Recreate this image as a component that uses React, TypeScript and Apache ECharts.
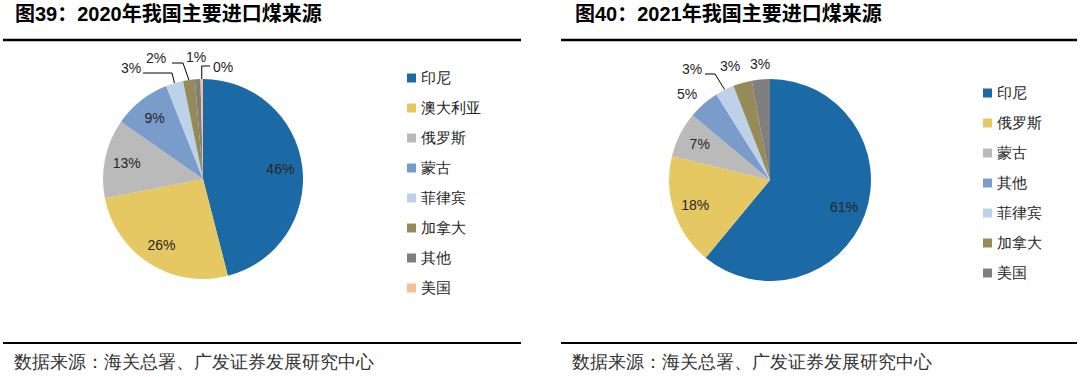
import React, { useEffect, useRef } from 'react';
import * as echarts from 'echarts';

const names2020 = ['印尼', '澳大利亚', '俄罗斯', '蒙古', '菲律宾', '加拿大', '其他', '美国'];
const values2020 = [46.0, 25.9, 12.8, 9.3, 2.8, 1.9, 0.9, 0.4];
const colors2020 = ['#1B6AA5', '#E6C863', '#BABABA', '#7A9CCB', '#BDD1E8', '#968B58', '#7F7F7F', '#F9BF94'];

const names2021 = ['印尼', '俄罗斯', '蒙古', '其他', '菲律宾', '加拿大', '美国'];
const values2021 = [61.0, 17.8, 7.3, 5.0, 3.0, 3.0, 2.9];
const colors2021 = ['#1B6AA5', '#E6C863', '#BABABA', '#7A9CCB', '#BDD1E8', '#968B58', '#7F7F7F'];

const title2020 = '图39：2020年我国主要进口煤来源';
const title2021 = '图40：2021年我国主要进口煤来源';
const sourceText = '数据来源：海关总署、广发证券发展研究中心';

const labelFont = 'Liberation Sans, Arial, sans-serif';
const serifFont = 'serif';

// outside label placement (chart-local px): label centre and optional leader-line elbow points
type Placement = { x: number; y: number; line?: number[][] };
const placements2020: Record<number, Placement> = {
  4: { x: 131, y: 68, line: [[172, 73], [143, 73]] },
  5: { x: 156, y: 58, line: [[183, 63], [172, 63]] },
  6: { x: 196, y: 57 },
  7: { x: 223, y: 67, line: [[-1, 66], [210, 66]] },
};
const placements2021: Record<number, Placement> = {
  3: { x: 147, y: 94 },
  4: { x: 152, y: 69, line: [[175, 74], [165, 74]] },
  5: { x: 190, y: 66 },
  6: { x: 220, y: 64 },
};

function edgePoint(values: number[], i: number, cx: number, cy: number, r: number) {
  const total = values.reduce((a, b) => a + b, 0);
  let before = 0;
  for (let k = 0; k < i; k++) before += values[k];
  const mid = ((before + values[i] / 2) / total) * Math.PI * 2;
  return [cx + r * Math.sin(mid), cy - r * Math.cos(mid)];
}

function buildOption(
  names: string[],
  values: number[],
  colors: string[],
  insideCount: number,
  placements: Record<number, Placement>,
  title: string,
  cx: number,
  cy: number,
  r: number,
  legendLeft: number,
  legendTop: number,
  lineX0: number,
  lineX1: number,
  titleX: number,
  footX: number
) {
  const visibleData = names.map((n, i) => ({
    name: n,
    value: values[i],
    itemStyle: { color: colors[i] },
  }));
  const labelData = names.map((n, i) => {
    const inside = i < insideCount;
    const pl = placements[i];
    return {
      name: n,
      value: values[i],
      label: inside ? { show: true, position: 'inside' } : { show: true, position: 'outside' },
      labelLine:
        inside || !pl || !pl.line
          ? { show: false }
          : { show: true, length: 6, length2: 12, lineStyle: { color: '#000', width: 1 } },
    };
  });
  return {
    animation: false,
    legend: {
      orient: 'vertical',
      left: legendLeft,
      top: legendTop,
      itemWidth: 9,
      itemHeight: 9,
      itemGap: 15,
      icon: 'rect',
      selectedMode: false,
      data: names,
      textStyle: { fontSize: 15, lineHeight: 15, fontFamily: serifFont, color: '#262626' },
    },
    graphic: [
      {
        type: 'text',
        left: titleX,
        top: 4,
        style: {
          text: title,
          fontSize: 20,
          fontWeight: 'bold',
          fontFamily: 'Liberation Sans, Arial, Noto Sans CJK SC, sans-serif',
          fill: '#000',
        },
      },
      {
        type: 'line',
        shape: { x1: lineX0, y1: 40, x2: lineX1, y2: 40 },
        style: { stroke: '#000', lineWidth: 2.5 },
      },
      {
        type: 'line',
        shape: { x1: lineX0, y1: 343, x2: lineX1, y2: 343 },
        style: { stroke: '#000', lineWidth: 2 },
      },
      {
        type: 'text',
        left: footX,
        top: 353,
        style: {
          text: sourceText,
          fontSize: 17.5,
          fontFamily: serifFont,
          fill: '#333',
        },
      },
    ],
    series: [
      {
        type: 'pie',
        silent: true,
        center: [cx, cy],
        radius: [0, r],
        startAngle: 90,
        clockwise: true,
        label: { show: false },
        labelLine: { show: false },
        emphasis: { disabled: true },
        data: visibleData,
      },
      {
        type: 'pie',
        silent: true,
        center: [cx, cy],
        radius: [r / 2, r],
        startAngle: 90,
        clockwise: true,
        itemStyle: { color: 'rgba(0,0,0,0)' },
        emphasis: { disabled: true },
        avoidLabelOverlap: false,
        label: {
          fontSize: 14,
          fontFamily: labelFont,
          color: '#262626',
          formatter: (p: any) => Math.round(p.percent) + '%',
        },
        labelLayout: (params: any) => {
          const pl = placements[params.dataIndex];
          if (!pl) return {};
          const out: any = { x: pl.x, y: pl.y, align: 'center', verticalAlign: 'middle' };
          if (pl.line) {
            const e = edgePoint(values, params.dataIndex, cx, cy, r);
            const pts = pl.line.map((p) => [p[0] < 0 ? e[0] : p[0], p[1]]);
            out.labelLinePoints = [e, ...pts];
          }
          return out;
        },
        data: labelData,
      },
    ],
  };
}

export default function App() {
  const leftRef = useRef<HTMLDivElement>(null);
  const rightRef = useRef<HTMLDivElement>(null);

  useEffect(() => {
    const left = echarts.init(leftRef.current!, undefined, { renderer: 'svg' });
    const right = echarts.init(rightRef.current!, undefined, { renderer: 'svg' });
    left.setOption(
      buildOption(names2020, values2020, colors2020, 4, placements2020, title2020, 203, 179, 100, 402, 65.5, 3, 521, 15, 14) as any
    );
    right.setOption(
      buildOption(names2021, values2021, colors2021, 3, placements2021, title2021, 230, 180, 101, 438, 80.5, 21, 537, 35, 32) as any
    );
    return () => {
      left.dispose();
      right.dispose();
    };
  }, []);

  return (
    <div style={{ position: 'fixed', left: 0, top: 0, width: 1080, height: 377, background: '#fff' }}>
      <div ref={leftRef} style={{ position: 'absolute', left: 0, top: 0, width: 540, height: 377 }} />
      <div ref={rightRef} style={{ position: 'absolute', left: 540, top: 0, width: 540, height: 377 }} />
    </div>
  );
}
